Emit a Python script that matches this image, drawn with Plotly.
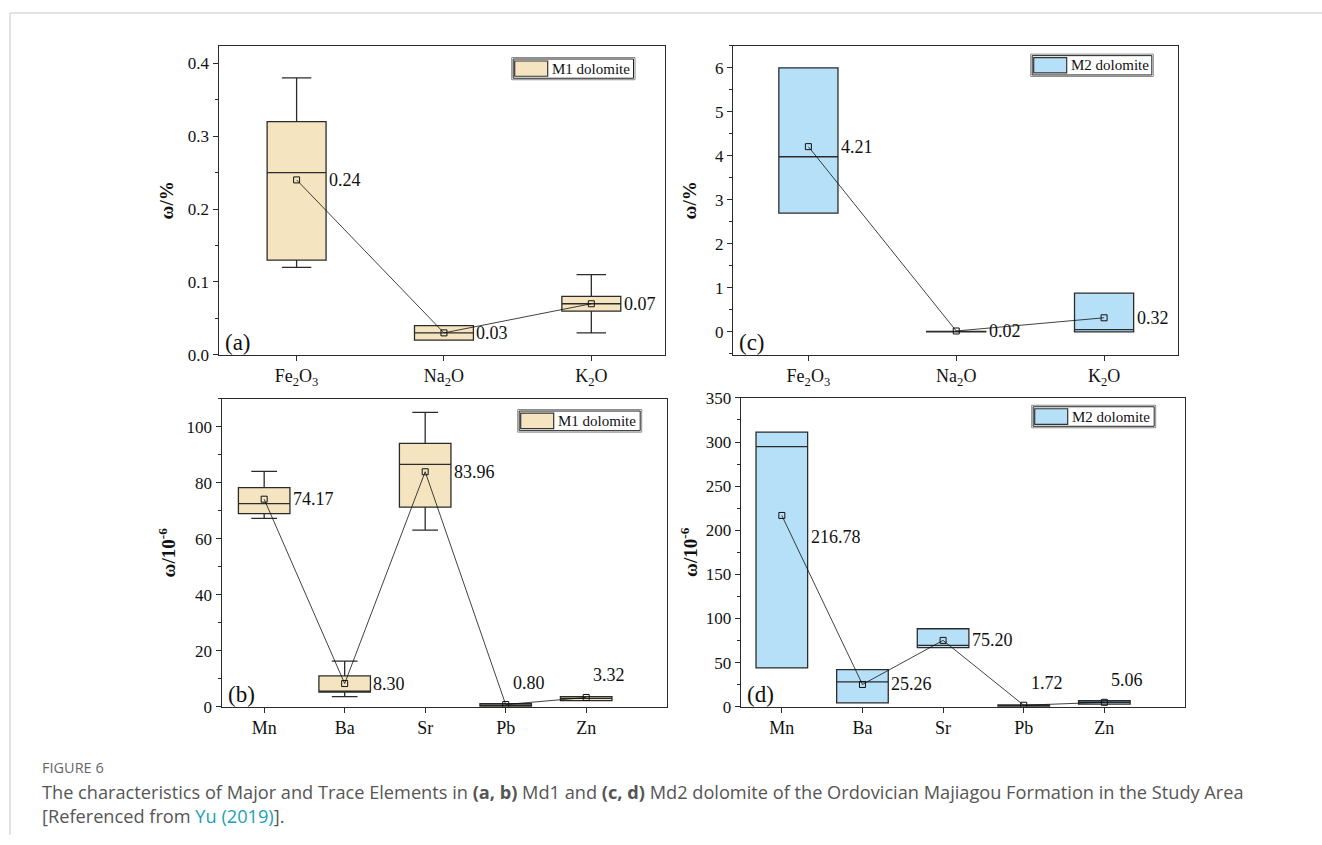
import plotly.graph_objects as go

W, H = 1322, 845
# the page viewer shows the paper offset 8px down and 829px tall; map reference pixels accordingly
Y_OFF, H_EFF = 8, 829

# ---------------- data ----------------
major_cats = ["Fe<sub>2</sub>O<sub>3</sub>", "Na<sub>2</sub>O", "K<sub>2</sub>O"]
trace_cats = ["Mn", "Ba", "Sr", "Pb", "Zn"]

# (a) M1 dolomite, major elements (%)
a_q1 = [0.13, 0.02, 0.06]
a_med = [0.25, 0.03, 0.07]
a_q3 = [0.32, 0.04, 0.08]
a_lo = [0.12, 0.02, 0.03]
a_hi = [0.38, 0.04, 0.11]
a_mean = [0.24, 0.03, 0.07]

# (c) M2 dolomite, major elements (%)
c_q1 = [2.70, 0.00, 0.00]
c_med = [3.98, 0.00, 0.05]
c_q3 = [6.00, 0.01, 0.88]
c_lo = [2.70, 0.00, 0.00]
c_hi = [6.00, 0.01, 0.88]
c_mean = [4.21, 0.02, 0.32]

# (b) M1 dolomite, trace elements (10^-6)
b_q1 = [69.0, 5.2, 71.3, 0.1, 2.2]
b_med = [72.6, 5.6, 86.6, 0.6, 3.0]
b_q3 = [78.3, 11.0, 94.1, 1.1, 3.6]
b_lo = [67.3, 3.6, 63.1, 0.1, 2.2]
b_hi = [84.1, 16.3, 105.2, 1.1, 3.6]
b_mean = [74.17, 8.30, 83.96, 0.80, 3.32]

# (d) M2 dolomite, trace elements (10^-6)
d_q1 = [44.0, 4.5, 67.0, 0.2, 2.9]
d_med = [294.7, 28.2, 69.6, 1.0, 5.0]
d_q3 = [311.3, 42.2, 88.4, 2.0, 6.8]
d_lo = [44.0, 4.5, 67.0, 0.2, 2.9]
d_hi = [311.3, 42.2, 88.4, 2.0, 6.8]
d_mean = [216.78, 25.26, 75.20, 1.72, 5.06]

M1_FILL = "#F4E5C0"
M2_FILL = "#B6E0F8"
DARK = "#2b2b2b"
SERIF = "Liberation Serif, Times New Roman, serif"
SANS = "Open Sans, Noto Sans, sans-serif"

fig = go.Figure()


def px_x(p):
    return p / W


def px_y(p):
    return 1 - (p - Y_OFF) / H_EFF


panels = [
    dict(key="", name="a", cats=major_cats, q1=a_q1, med=a_med, q3=a_q3, lo=a_lo, hi=a_hi, mean=a_mean,
         fill=M1_FILL, legend="M1 dolomite", box=(218.5, 665, 45, 355), xr=[-0.53, 2.5], yr=[0, 0.424],
         dtick=0.1, minor=0.05, fmt=".1f", bw=0.4, ytitle="<b>ω/%</b>", standoff=9,
         lab=["r", "r", "r"], leg=(511.7, 635, 56.7, 79)),
    dict(key="2", name="c", cats=major_cats, q1=c_q1, med=c_med, q3=c_q3, lo=c_lo, hi=c_hi, mean=c_mean,
         fill=M2_FILL, legend="M2 dolomite", box=(733, 1178, 45, 355), xr=[-0.51, 2.5], yr=[-0.52, 6.5],
         dtick=1, minor=0.5, fmt="d", bw=0.4, ytitle="<b>ω/%</b>", standoff=13,
         lab=["r", "r", "r"], leg=(1030.7, 1153.3, 53.3, 75.7)),
    dict(key="3", name="b", cats=trace_cats, q1=b_q1, med=b_med, q3=b_q3, lo=b_lo, hi=b_hi, mean=b_mean,
         fill=M1_FILL, legend="M1 dolomite", box=(221.5, 666.7, 399.3, 708.3), xr=[-0.53, 5.0], yr=[0, 110],
         dtick=20, minor=10, fmt="d", bw=0.64, ytitle="<b>ω/10<sup>-6</sup></b>", standoff=5,
         lab=["r", "r", "r", "u", "u"], leg=(517.7, 641.7, 410, 432.7)),
    dict(key="4", name="d", cats=trace_cats, q1=d_q1, med=d_med, q3=d_q3, lo=d_lo, hi=d_hi, mean=d_mean,
         fill=M2_FILL, legend="M2 dolomite", box=(740.7, 1185, 398.3, 708.3), xr=[-0.51, 5.0], yr=[0, 350],
         dtick=50, minor=25, fmt="d", bw=0.64, ytitle="<b>ω/10<sup>-6</sup></b>", standoff=3,
         lab=["d", "r", "r", "u", "u"], leg=(1031.7, 1155.7, 405.7, 428.3)),
]

annotations = []
shapes = []
LABEL_FONT = dict(family=SERIF, size=18, color="#111")

for p in panels:
    k = p["key"]
    xa = "x" + k
    ya = "y" + k
    pos = list(range(len(p["cats"])))
    fig.add_trace(go.Box(
        x=pos, q1=p["q1"], median=p["med"], q3=p["q3"],
        lowerfence=p["lo"], upperfence=p["hi"],
        width=p["bw"], whiskerwidth=0.5,
        fillcolor=p["fill"], line=dict(color=DARK, width=1.3),
        boxpoints=False, name=p["legend"], showlegend=False,
        xaxis=xa, yaxis=ya, hoverinfo="skip",
    ))
    fig.add_trace(go.Scatter(
        x=pos, y=p["mean"], mode="lines+markers",
        line=dict(color="#111111", width=0.8),
        marker=dict(symbol="square-open", size=6, color="#111111", line=dict(width=1)),
        showlegend=False, xaxis=xa, yaxis=ya, name="mean",
    ))
    x0, x1, yt, yb = p["box"]
    axis_common = dict(showline=True, linecolor=DARK, linewidth=1, mirror=True,
                       ticks="outside", tickcolor=DARK, ticklen=5, tickwidth=1,
                       showgrid=False, zeroline=False)
    fig.update_layout(**{
        ("xaxis" + k): dict(domain=[px_x(x0), px_x(x1)], range=p["xr"], anchor=ya,
                            tickmode="array", tickvals=pos, ticktext=p["cats"],
                            tickfont=dict(family=SERIF, size=18, color="#111"), **axis_common),
        ("yaxis" + k): dict(domain=[px_y(yb), px_y(yt)], range=p["yr"], anchor=xa,
                            tickmode="linear", tick0=0, dtick=p["dtick"], tickformat=p["fmt"],
                            tickfont=dict(family=SERIF, size=17, color="#111"),
                            minor=dict(ticks="outside", ticklen=3, tickcolor=DARK, dtick=p["minor"], tick0=0),
                            title=dict(text=p["ytitle"], font=dict(family=SERIF, size=19, color="#111"),
                                       standoff=p["standoff"]),
                            **axis_common),
    })
    for i, m in enumerate(p["mean"]):
        mode = p["lab"][i]
        txt = f"{m:.2f}"
        if mode == "r":
            annotations.append(dict(x=i + p["bw"] / 2, y=m, xref=xa, yref=ya, text=txt, showarrow=False,
                                    xanchor="left", yanchor="middle", xshift=1, font=LABEL_FONT))
        elif mode == "d":
            annotations.append(dict(x=i + p["bw"] / 2, y=m, xref=xa, yref=ya, text=txt, showarrow=False,
                                    xanchor="left", yanchor="middle", xshift=1, yshift=-22, font=LABEL_FONT))
        else:
            annotations.append(dict(x=i, y=m, xref=xa, yref=ya, text=txt, showarrow=False,
                                    xanchor="center", yanchor="middle", xshift=23, yshift=22, font=LABEL_FONT))
    annotations.append(dict(x=px_x(x0 + 4), y=px_y(yb + 2), xref="paper", yref="paper",
                            text=f"({p['name']})", showarrow=False, xanchor="left", yanchor="bottom",
                            font=dict(family=SERIF, size=23, color="#111")))
    lx0, lx1, ly0, ly1 = p["leg"]
    shapes.append(dict(type="rect", xref="paper", yref="paper", x0=px_x(lx0), x1=px_x(lx1),
                       y0=px_y(ly1), y1=px_y(ly0), line=dict(color="#8a8a8a", width=1), fillcolor="white"))
    shapes.append(dict(type="rect", xref="paper", yref="paper", x0=px_x(lx0 + 1.5), x1=px_x(lx1 - 1.5),
                       y0=px_y(ly1 - 1.5), y1=px_y(ly0 + 1.5), line=dict(color="#222", width=1)))
    shapes.append(dict(type="rect", xref="paper", yref="paper", x0=px_x(lx0 + 3), x1=px_x(lx0 + 36),
                       y0=px_y(ly1 - 3.5), y1=px_y(ly0 + 3.5), line=dict(color="#333", width=1.2),
                       fillcolor=p["fill"]))
    annotations.append(dict(x=px_x(lx0 + 38), y=px_y((ly0 + ly1) / 2), xref="paper", yref="paper",
                            text=p["legend"], showarrow=False, xanchor="left", yanchor="middle",
                            font=dict(family=SERIF, size=15, color="#111")))

shapes.append(dict(type="line", xref="paper", yref="paper", x0=px_x(10), x1=1, y0=px_y(12), y1=px_y(12),
                   line=dict(color="#c8c8c8", width=1)))
shapes.append(dict(type="line", xref="paper", yref="paper", x0=px_x(10), x1=px_x(10), y0=0, y1=px_y(12),
                   line=dict(color="#c8c8c8", width=1)))

annotations.append(dict(x=px_x(40), y=px_y(780.5), xref="paper", yref="paper", text="FIGURE 6",
                        showarrow=False, xanchor="left", yanchor="bottom",
                        font=dict(family=SANS, size=14.5, color="#666")))
annotations.append(dict(x=px_x(40), y=px_y(780), xref="paper", yref="paper",
                        text="The characteristics of Major and Trace Elements in <b>(a, b)</b> Md1 and <b>(c, d)</b> Md2 dolomite of the Ordovician Majiagou Formation in the Study Area"
                             "<br>[Referenced from <span style='color:#1a9fb5'>Yu (2019)</span>].",
                        showarrow=False, xanchor="left", yanchor="top", align="left",
                        font=dict(family=SANS, size=18.2, color="#555")))

fig.update_layout(width=W, height=H, margin=dict(l=0, r=0, t=0, b=0),
                  paper_bgcolor="white", plot_bgcolor="white", showlegend=False,
                  annotations=annotations, shapes=shapes)

fig.write_html("out.html", config={"displayModeBar": False},
               post_script="document.body.style.margin='0';document.body.style.overflow='hidden';")
